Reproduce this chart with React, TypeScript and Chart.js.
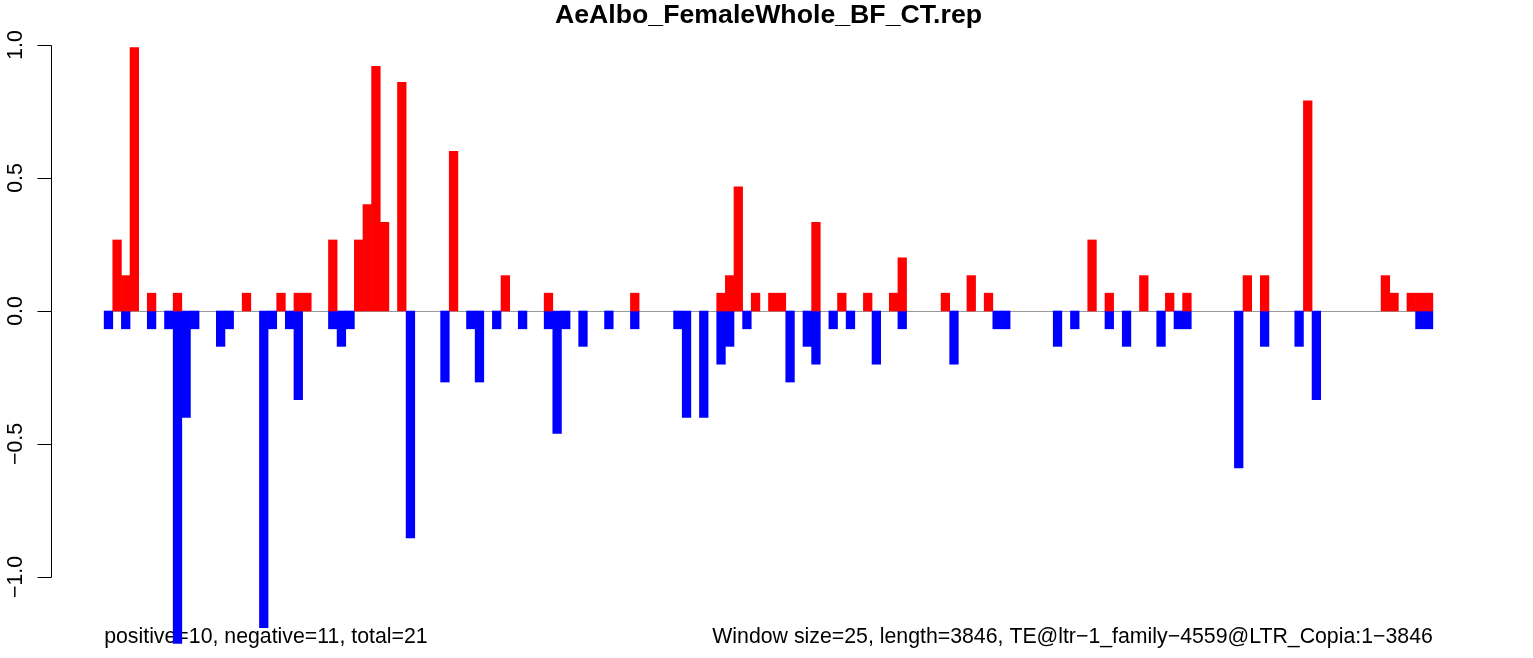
import React, { useEffect, useRef } from "react";
import { Chart, registerables } from "chart.js";

Chart.register(...registerables);

const chartTitle = "AeAlbo_FemaleWhole_BF_CT.rep";
const leftNote = "positive=10, negative=11, total=21";
const rightNote = "Window size=25, length=3846, TE@ltr\u22121_family\u22124559@LTR_Copia:1\u22123846";

const yTickValues = [-1, -0.5, 0, 0.5, 1];
const yTickLabels = ["\u22121.0", "\u22120.5", "0.0", "0.5", "1.0"];

// one value per 25-bp window (154 windows)
const positiveValues = [
  0, 0.267, 0.133, 0.99, 0, 0.067, 0, 0, 0.067, 0,
  0, 0, 0, 0, 0, 0, 0.067, 0, 0, 0,
  0.067, 0, 0.067, 0.067, 0, 0, 0.267, 0, 0, 0.267,
  0.4, 0.92, 0.333, 0, 0.86, 0, 0, 0, 0, 0,
  0.6, 0, 0, 0, 0, 0, 0.133, 0, 0, 0,
  0, 0.067, 0, 0, 0, 0, 0, 0, 0, 0,
  0, 0.067, 0, 0, 0, 0, 0, 0, 0, 0,
  0, 0.067, 0.133, 0.467, 0, 0.067, 0, 0.067, 0.067, 0,
  0, 0, 0.333, 0, 0, 0.067, 0, 0, 0.067, 0,
  0, 0.067, 0.2, 0, 0, 0, 0, 0.067, 0, 0,
  0.133, 0, 0.067, 0, 0, 0, 0, 0, 0, 0,
  0, 0, 0, 0, 0.267, 0, 0.067, 0, 0, 0,
  0.133, 0, 0, 0.067, 0, 0.067, 0, 0, 0, 0,
  0, 0, 0.133, 0, 0.133, 0, 0, 0, 0, 0.79,
  0, 0, 0, 0, 0, 0, 0, 0, 0.133, 0.067,
  0, 0.067, 0.067, 0.067,
];

const negativeValues = [
  -0.067, 0, -0.067, 0, 0, -0.067, 0, -0.067, -1.25, -0.4,
  -0.067, 0, 0, -0.133, -0.067, 0, 0, 0, -1.19, -0.067,
  0, -0.067, -0.333, 0, 0, 0, -0.067, -0.133, -0.067, 0,
  0, 0, 0, 0, 0, -0.853, 0, 0, 0, -0.267,
  0, 0, -0.067, -0.267, 0, -0.067, 0, 0, -0.067, 0,
  0, -0.067, -0.46, -0.067, 0, -0.133, 0, 0, -0.067, 0,
  0, -0.067, 0, 0, 0, 0, -0.067, -0.4, 0, -0.4,
  0, -0.2, -0.133, 0, -0.067, 0, 0, 0, 0, -0.267,
  0, -0.133, -0.2, 0, -0.067, 0, -0.067, 0, 0, -0.2,
  0, 0, -0.067, 0, 0, 0, 0, 0, -0.2, 0,
  0, 0, 0, -0.067, -0.067, 0, 0, 0, 0, 0,
  -0.133, 0, -0.067, 0, 0, 0, -0.067, 0, -0.133, 0,
  0, 0, -0.133, 0, -0.067, -0.067, 0, 0, 0, 0,
  0, -0.59, 0, 0, -0.133, 0, 0, 0, -0.133, 0,
  -0.333, 0, 0, 0, 0, 0, 0, 0, 0, 0,
  0, 0, -0.067, -0.067,
];

const windowCount = positiveValues.length;

const FONT = '"Liberation Sans", Arial, Helvetica, sans-serif';

const decorPlugin = {
  id: "rDecor",
  beforeDatasetsDraw(chart: any) {
    const { ctx } = chart;
    const xs = chart.scales.x;
    const ys = chart.scales.y;
    const x0 = xs.getPixelForValue(0);
    const x1 = xs.getPixelForValue(windowCount);
    const yz = Math.round(ys.getPixelForValue(0)) + 0.5;
    ctx.save();
    ctx.strokeStyle = "#9a9a9a";
    ctx.lineWidth = 1;
    ctx.beginPath();
    ctx.moveTo(x0, yz);
    ctx.lineTo(x1, yz);
    ctx.stroke();

    ctx.fillStyle = "#000";
    ctx.font = "21.3px " + FONT;
    ctx.textBaseline = "alphabetic";
    const yText = ys.getPixelForValue(-1.248);
    ctx.textAlign = "left";
    ctx.fillText(leftNote, x0, yText);
    ctx.textAlign = "right";
    ctx.fillText(rightNote, x1, yText);
    ctx.restore();
  },
  afterDraw(chart: any) {
    const { ctx, chartArea } = chart;
    const xs = chart.scales.x;
    const ys = chart.scales.y;
    ctx.save();
    // title
    ctx.fillStyle = "#000";
    ctx.font = "bold 26.7px " + FONT;
    ctx.textAlign = "center";
    ctx.textBaseline = "alphabetic";
    const cx = (xs.getPixelForValue(0) + xs.getPixelForValue(windowCount)) / 2;
    ctx.fillText(chartTitle, cx, 23);

    // y axis
    const ax = Math.round(chartArea.left) + 0.5;
    const yTop = ys.getPixelForValue(yTickValues[yTickValues.length - 1]);
    const yBot = ys.getPixelForValue(yTickValues[0]);
    ctx.strokeStyle = "#000";
    ctx.lineWidth = 1;
    ctx.beginPath();
    ctx.moveTo(ax, Math.round(yTop) + 0.5);
    ctx.lineTo(ax, Math.round(yBot) + 0.5);
    yTickValues.forEach((v) => {
      const py = Math.round(ys.getPixelForValue(v)) + 0.5;
      ctx.moveTo(ax, py);
      ctx.lineTo(ax - 14, py);
    });
    ctx.stroke();

    ctx.font = "21.3px " + FONT;
    ctx.textAlign = "center";
    ctx.textBaseline = "alphabetic";
    yTickValues.forEach((v, i) => {
      const py = ys.getPixelForValue(v);
      ctx.save();
      ctx.translate(ax - 30, py);
      ctx.rotate(-Math.PI / 2);
      ctx.fillText(yTickLabels[i], 0, 0);
      ctx.restore();
    });
    ctx.restore();
  },
};

export default function App() {
  const canvasRef = useRef<HTMLCanvasElement | null>(null);

  useEffect(() => {
    if (!canvasRef.current) return;
    const toPoints = (arr: number[]) =>
      arr.map((v, i) => ({ x: i + 0.5, y: v === 0 ? null : v }));

    const chart = new Chart(canvasRef.current, {
      type: "bar",
      data: {
        datasets: [
          {
            label: "positive",
            data: toPoints(positiveValues) as any,
            backgroundColor: "#ff0000",
            borderWidth: 0,
            clip: false as any,
          },
          {
            label: "negative",
            data: toPoints(negativeValues) as any,
            backgroundColor: "#0000ff",
            borderWidth: 0,
            clip: false as any,
          },
        ],
      },
      options: {
        animation: false,
        responsive: false,
        devicePixelRatio: 1,
        events: [],
        layout: { padding: { left: 51, right: 47, top: 23.7, bottom: 59.7 } },
        datasets: { bar: { categoryPercentage: 1, barPercentage: 1 } },
        plugins: {
          legend: { display: false },
          tooltip: { enabled: false },
          title: { display: false },
        },
        scales: {
          x: {
            type: "linear",
            min: -6.16,
            max: windowCount + 6.16,
            display: false,
            stacked: true,
            offset: false,
          },
          y: {
            min: -1.08,
            max: 1.08,
            display: false,
            stacked: true,
          },
        },
      },
      plugins: [decorPlugin],
    });
    return () => chart.destroy();
  }, []);

  return (
    <div style={{ position: "absolute", left: 0, top: 0, width: 1533, height: 658, background: "#fff" }}>
      <canvas ref={canvasRef} width={1533} height={658} style={{ display: "block" }} />
    </div>
  );
}
